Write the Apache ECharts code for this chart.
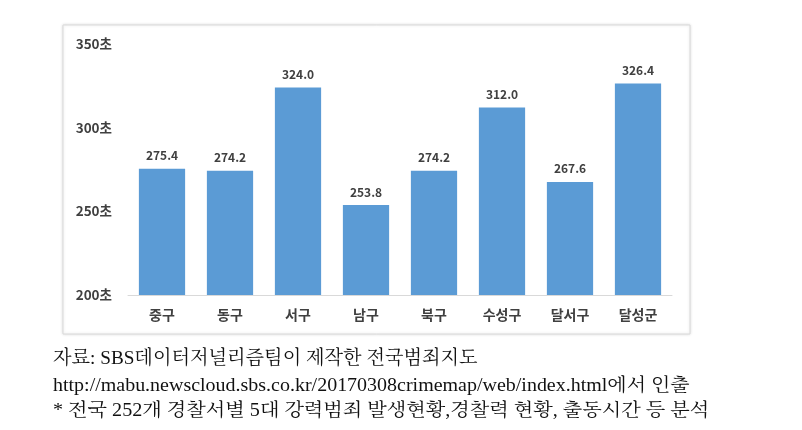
<!DOCTYPE html>
<html><head><meta charset="utf-8">
<script src="https://cdn.jsdelivr.net/npm/echarts@6/dist/echarts.min.js"></script>
<style>html,body{margin:0;padding:0;background:#fff}#c{width:802px;height:430px}</style>
</head><body><div id="c"></div>
<script>
const categories = ['중구','동구','서구','남구','북구','수성구','달서구','달성군'];
const values = [275.4, 274.2, 324.0, 253.8, 274.2, 312.0, 267.6, 326.4];
const yMin = 200, yMax = 350, yInterval = 50;
const notes = [
  '자료: SBS데이터저널리즘팀이 제작한 전국범죄지도',
  'http://mabu.newscloud.sbs.co.kr/20170308crimemap/web/index.html에서 인출',
  '* 전국 252개 경찰서별 5대 강력범죄 발생현황,경찰력 현황, 출동시간 등 분석'
];
const chart = echarts.init(document.getElementById('c'), null, {renderer:'canvas'});
const sansKR = '"Malgun Gothic","Noto Sans CJK KR",sans-serif';
const serifKR = '"Liberation Serif","Noto Serif CJK KR","Noto Sans CJK KR",serif';
chart.setOption({
  animation:false,
  backgroundColor:'#fff',
  grid:{left:128,right:130,top:44,bottom:135,containLabel:false},
  xAxis:{type:'category',data:categories,
    axisLine:{lineStyle:{color:'#d9d9d9'}},axisTick:{show:false},
    axisLabel:{color:'#404040',fontSize:14,fontWeight:'bold',margin:13,fontFamily:sansKR}},
  yAxis:{type:'value',min:yMin,max:yMax,interval:yInterval,
    axisLine:{show:false},axisTick:{show:false},splitLine:{show:false},
    axisLabel:{formatter:'{value}초',color:'#404040',fontSize:13.5,fontWeight:'bold',margin:16,fontFamily:sansKR}},
  series:[{type:'bar',data:values,barCategoryGap:'32%',
    itemStyle:{color:'#5b9bd5'},
    label:{show:true,position:'top',distance:7,color:'#404040',fontSize:12,fontWeight:'bold',fontFamily:sansKR,
      formatter:p=>p.value.toFixed(1)}}],
  graphic:[
    {type:'rect',shape:{x:63,y:25,width:627,height:309},z:-10,silent:true,
      style:{fill:'#fff',stroke:'#d9d9d9',lineWidth:1,shadowBlur:3,shadowColor:'rgba(0,0,0,0.12)'}},
    {type:'text',x:53,y:359,scaleX:1.01,style:{text:notes[0],font:'19px '+serifKR,fill:'#111',verticalAlign:'middle'}},
    {type:'text',x:53,y:386,scaleX:1.11,style:{text:notes[1],font:'18px '+serifKR,fill:'#111',verticalAlign:'middle'}},
    {type:'text',x:53,y:411,scaleX:1.12,style:{text:notes[2],font:'18px '+serifKR,fill:'#111',verticalAlign:'middle'}}
  ]
});
</script></body></html>
